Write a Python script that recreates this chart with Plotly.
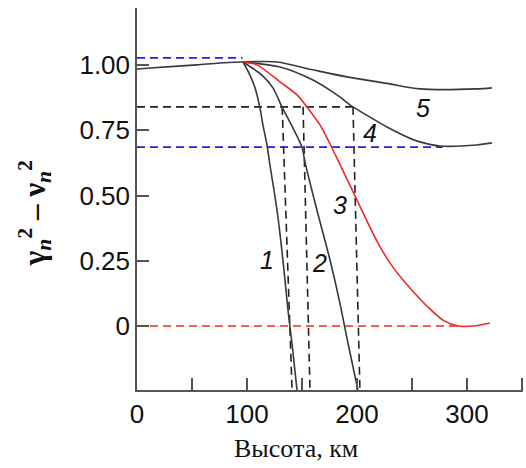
import plotly.graph_objects as go

# Common part of all curves (0 .. ~96 km)
base_x = [0, 11.8, 54.5, 75.5, 96.4]
base_y = [0.985, 0.989, 1.001, 1.008, 1.012]

c1_x = [96.4, 102.7, 107.3, 111.8, 114.5, 118.2, 120.9, 127.3, 132.7, 137.3, 140.9, 145.5]
c1_y = [1.012, 0.962, 0.913, 0.836, 0.771, 0.694, 0.617, 0.445, 0.253, 0.061, -0.065, -0.245]

c2_x = [96.4, 113.6, 123.6, 131.8, 141.8, 150.0, 152.7, 163.6, 175.5, 184.5, 191.8, 200.9]
c2_y = [1.012, 0.962, 0.913, 0.840, 0.759, 0.686, 0.629, 0.445, 0.253, 0.088, -0.065, -0.245]

c3_x = [96.4, 109.1, 130.0, 145.5, 154.5, 166.4, 181.8, 199.1, 219.1, 232.7, 248.2, 264.5, 278.2, 291.8, 305.5, 320.9]
c3_y = [1.012, 1.001, 0.936, 0.886, 0.840, 0.771, 0.644, 0.491, 0.318, 0.226, 0.146, 0.073, 0.023, 0.0, 0.0, 0.012]

c4_x = [96.4, 130.0, 160.0, 181.8, 196.4, 211.8, 227.3, 245.5, 257.3, 275.5, 309.0, 322.7]
c4_y = [1.012, 0.993, 0.943, 0.886, 0.840, 0.801, 0.763, 0.725, 0.706, 0.690, 0.694, 0.702]

c5_x = [96.4, 127.3, 160.0, 190.9, 227.3, 257.3, 309.0, 322.7]
c5_y = [1.012, 1.012, 0.982, 0.955, 0.930, 0.909, 0.909, 0.913]

# Reference (dashed) lines
h_blue_top = (0, 96.0, 1.028)
h_blue_low = (0, 278.0, 0.686)
h_black = (0, 196.4, 0.840)
h_red = (0, 292.0, 0.0)
v_lines_x = [(132.0, 141.0), (151.0, 157.3), (196.4, 202.7)]
v_lines_y = (0.840, -0.245)

labels = ["1", "2", "3", "4", "5"]
label_x = [118.2, 166.4, 184.5, 211.8, 260.0]
label_y = [0.253, 0.241, 0.464, 0.740, 0.836]

x_range = [0, 351]
y_range = [-0.245, 1.219]
y_ticks = [-0.25, 0, 0.25, 0.5, 0.75, 1.0]
y_ticktext = ["-0.25", "0", "0.25", "0.50", "0.75", "1.00"]

DARK = "#3a3a3a"
RED = "#f02828"
BLUE = "#1f1fef"

fig = go.Figure()

def dashed(xs, ys, color):
    fig.add_trace(go.Scatter(x=xs, y=ys, mode="lines",
                             line=dict(color=color, width=1.6, dash="8px,5px"),
                             hoverinfo="skip", showlegend=False))

dashed([h_blue_top[0], h_blue_top[1]], [h_blue_top[2]] * 2, BLUE)
dashed([h_blue_low[0], h_blue_low[1]], [h_blue_low[2]] * 2, BLUE)
dashed([h_black[0], h_black[1]], [h_black[2]] * 2, "#222222")
dashed([h_red[0], h_red[1]], [h_red[2]] * 2, RED)
for top, bot in v_lines_x:
    dashed([top, bot], list(v_lines_y), "#222222")

def curve(xs, ys, color):
    fig.add_trace(go.Scatter(x=xs, y=ys, mode="lines",
                             line=dict(color=color, width=1.6, shape="spline", smoothing=0.8),
                             hoverinfo="skip", showlegend=False))

curve(base_x, base_y, DARK)
curve(c1_x, c1_y, DARK)
curve(c2_x, c2_y, DARK)
curve(c4_x, c4_y, DARK)
curve(c5_x, c5_y, DARK)
curve(c3_x, c3_y, RED)

for t, lx, ly in zip(labels, label_x, label_y):
    fig.add_annotation(x=lx, y=ly, xref="x", yref="y", text="<i>" + t + "</i>",
                       showarrow=False, font=dict(family="Liberation Sans", size=25, color="#111111"))

fig.add_annotation(x=-0.264, y=0.463, xref="paper", yref="paper",
                   xanchor="center", yanchor="middle",
                   text="<b>γ<sub><i>n</i></sub><sup>2</sup> – ν<sub><i>n</i></sub><sup>2</sup></b>",
                   textangle=-90, showarrow=False,
                   font=dict(family="Liberation Serif", size=31, color="#111111"))
fig.add_annotation(x=0.412, y=-0.152, xref="paper", yref="paper",
                   xanchor="center", yanchor="middle",
                   text="Высота, км", showarrow=False,
                   font=dict(family="Liberation Serif", size=26, color="#111111"))

fig.update_xaxes(range=x_range, showgrid=False, zeroline=False,
                 showline=True, linecolor="#555555", linewidth=1.5,
                 ticks="inside", ticklen=12, tickcolor="#555555", tickwidth=1.5,
                 tickvals=[0, 50, 100, 150, 200, 250, 300, 350],
                 ticktext=["0", "", "100", "", "200", "", "300", ""],
                 tickfont=dict(family="Liberation Sans", size=26, color="#111111"))
fig.update_yaxes(range=y_range, showgrid=False, zeroline=False,
                 showline=True, linecolor="#555555", linewidth=1.5,
                 ticks="inside", ticklen=12, tickcolor="#555555", tickwidth=1.5,
                 tickvals=y_ticks, ticktext=y_ticktext,
                 tickfont=dict(family="Liberation Sans", size=26, color="#111111"))

fig.update_layout(width=526, height=468, margin=dict(l=137, r=3, t=8, b=78),
                  plot_bgcolor="white", paper_bgcolor="white")

fig.write_html("out.html")
